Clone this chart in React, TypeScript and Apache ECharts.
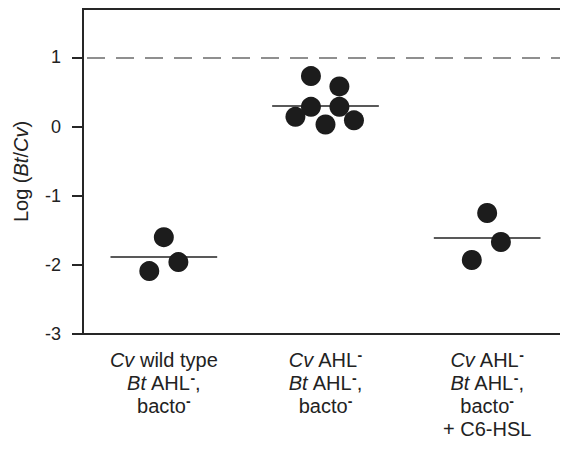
import React, { useEffect, useRef } from "react";
import * as echarts from "echarts";

// Groups (x positions 1..3), jitter offsets (in category units), values
const groupLabels = [
  "{i|Cv}{n| wild type}\n{i|Bt}{n| AHL}{s|-}{n|,}\n{n|bacto}{s|-}",
  "{i|Cv}{n| AHL}{s|-}\n{i|Bt}{n| AHL}{s|-}{n|,}\n{n|bacto}{s|-}",
  "{i|Cv}{n| AHL}{s|-}\n{i|Bt}{n| AHL}{s|-}{n|,}\n{n|bacto}{s|-}\n{n|+ C6-HSL}",
];

const group1Jitter = [0, -0.09, 0.09];
const group1Values = [-1.6, -2.09, -1.96];
const group1Median = -1.88;

const group2Jitter = [-0.09, 0.086, -0.09, 0.086, -0.186, 0, 0.176];
const group2Values = [0.73, 0.58, 0.285, 0.285, 0.14, 0.03, 0.09];
const group2Median = 0.3;

const group3Jitter = [0, 0.085, -0.095];
const group3Values = [-1.25, -1.67, -1.93];
const group3Median = -1.61;

const referenceLevel = 1;
const yTicks = [-3, -2, -1, 0, 1];
const medianHalfWidth = 0.33;

const FONT = "'Liberation Sans', Arial, Helvetica, sans-serif";

export default function App() {
  const ref = useRef<HTMLDivElement>(null);

  useEffect(() => {
    if (!ref.current) return;
    const chart = echarts.init(ref.current, undefined, { renderer: "svg" });

    const groups = [
      { x: 1, jit: group1Jitter, vals: group1Values, med: group1Median },
      { x: 2, jit: group2Jitter, vals: group2Values, med: group2Median },
      { x: 3, jit: group3Jitter, vals: group3Values, med: group3Median },
    ];

    const points: number[][] = [];
    groups.forEach((g) => {
      g.vals.forEach((v, i) => points.push([g.x + g.jit[i], v]));
    });

    const medianLines = groups.map((g) => [
      { coord: [g.x - medianHalfWidth, g.med] },
      { coord: [g.x + medianHalfWidth, g.med] },
    ]);

    chart.setOption({
      animation: false,
      grid: {
        left: 83,
        top: 9,
        right: -3,
        bottom: 117,
        show: true,
        borderColor: "#262626",
        borderWidth: 2,
        backgroundColor: "transparent",
      },
      xAxis: {
        type: "value",
        min: 0.5,
        max: 3.5,
        axisLine: { show: false },
        axisTick: { show: false },
        splitLine: { show: false },
        axisLabel: {
          customValues: [1, 2, 3],
          margin: 14,
          formatter: (v: number) => groupLabels[Math.round(v) - 1] || "",
          rich: {
            n: { fontFamily: FONT, fontSize: 20, color: "#222", lineHeight: 23 },
            i: { fontFamily: FONT, fontSize: 20, color: "#222", fontStyle: "italic", lineHeight: 23 },
            s: { fontFamily: FONT, fontSize: 14, color: "#222", lineHeight: 10, verticalAlign: "top", fontWeight: "bold" },
          },
        },
      },
      yAxis: {
        type: "value",
        min: -3,
        max: 1.7,
        name: "{n|Log (}{i|Bt}{n|/}{i|Cv}{n|)}",
        nameLocation: "middle",
        nameRotate: 90,
        nameGap: 52,
        nameTextStyle: {
          rich: {
            n: { fontFamily: FONT, fontSize: 20, color: "#222" },
            i: { fontFamily: FONT, fontSize: 20, color: "#222", fontStyle: "italic" },
          },
        },
        axisLine: { show: false },
        splitLine: { show: false },
        axisTick: {
          show: true,
          customValues: yTicks,
          length: 11,
          inside: false,
          lineStyle: { color: "#262626", width: 2 },
        },
        axisLabel: {
          customValues: yTicks,
          margin: 22,
          fontFamily: FONT,
          fontSize: 18,
          color: "#222",
        },
      },
      series: [
        {
          type: "scatter",
          data: [],
          z: 1,
          silent: true,
          markLine: {
            silent: true,
            symbol: "none",
            label: { show: false },
            animation: false,
            data: [
              {
                yAxis: referenceLevel,
                lineStyle: { color: "#8f8f8f", width: 2, type: [18, 11], dashOffset: -4 },
              },
              ...medianLines.map((m) => [
                { ...m[0], lineStyle: { color: "#222", width: 1.5, type: "solid" } },
                m[1],
              ]),
            ],
          },
        },
        {
          type: "scatter",
          z: 5,
          symbol: "circle",
          symbolSize: 20,
          itemStyle: { color: "#1c1c1c", opacity: 1 },
          data: points,
        },
      ],
    });

    return () => chart.dispose();
  }, []);

  return <div ref={ref} style={{ width: 568, height: 451, margin: -8 }} />;
}
